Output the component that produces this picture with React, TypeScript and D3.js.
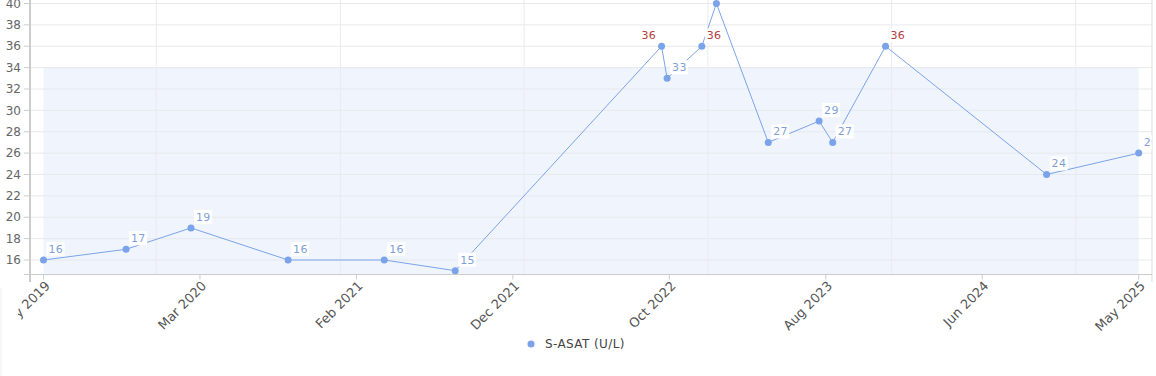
import React from "react";
import * as d3 from "d3";

const sampleDates = [
  "2019-05-22", "2019-11-02", "2020-03-10", "2020-09-19", "2021-03-29", "2021-08-17",
  "2022-10-01", "2022-10-12", "2022-12-20", "2023-01-18", "2023-05-01", "2023-08-10",
  "2023-09-06", "2023-12-20", "2024-11-04", "2025-05-06",
];
const sampleValues = [16, 17, 19, 16, 16, 15, 36, 33, 36, 40, 27, 29, 27, 36, 24, 26];
const yTicks = [16, 18, 20, 22, 24, 26, 28, 30, 32, 34, 36, 38, 40];
const yearLines = ["2020-01-01", "2021-01-01", "2022-01-01", "2023-01-01", "2024-01-01", "2025-01-01"];
const upperLimit = 34;
const yMin = 14.643;
const yMax = 40;
const seriesName = "S-ASAT (U/L)";
const xTickCount = 7;

const W = 1156;
const H = 376;
const plotLeft = 30;
const plotRight = 1152;
const plotTop = 3.5;
const plotBottom = 274.5;
const FONT = "'DejaVu Sans', Verdana, sans-serif";
const BLUE = "#7ba3ea";
const LABEL_BLUE = "#809fd8";
const RED = "#b2403c";

export default function App() {
  const parse = d3.utcParse("%Y-%m-%d");
  const dates = sampleDates.map((s) => parse(s) as Date);
  const data = dates.map((d, i) => ({ d, v: sampleValues[i] }));
  const t0 = dates[0];
  const t1 = dates[dates.length - 1];

  const x = d3.scaleUtc().domain([t0, t1]).range([43.5, 1138.7]);
  const y = d3.scaleLinear().domain([yMin, yMax]).range([plotBottom, plotTop]);

  const step = (t1.getTime() - t0.getTime()) / xTickCount;
  const xTicks = d3.range(xTickCount + 1).map((k) => new Date(t0.getTime() + k * step));
  const fmt = d3.utcFormat("%b %Y");

  const line = d3
    .line<{ d: Date; v: number }>()
    .x((p) => x(p.d))
    .y((p) => y(p.v));

  return (
    <svg
      width={W}
      height={H}
      style={{ position: "fixed", left: 0, top: 0, background: "#fff" }}
      fontFamily={FONT}
    >
      <defs>
        <clipPath id="plotClip">
          <rect x={plotLeft} y={0} width={plotRight - plotLeft} height={plotBottom} />
        </clipPath>
        <clipPath id="xLabClip">
          <rect x={18} y={plotBottom} width={W - 18} height={H - plotBottom} />
        </clipPath>
      </defs>

      {/* reference band */}
      <rect
        x={x(t0)}
        y={y(upperLimit)}
        width={x(t1) - x(t0)}
        height={plotBottom - y(upperLimit)}
        fill="#eff4fd"
      />

      {/* horizontal grid */}
      {yTicks.map((t) => (
        <line key={"g" + t} x1={plotLeft} x2={plotRight} y1={y(t)} y2={y(t)} stroke="#e8e9ed" strokeWidth={1} />
      ))}
      {/* year grid */}
      {yearLines.map((s) => {
        const xx = x(parse(s) as Date);
        return <line key={"yl" + s} x1={xx} x2={xx} y1={0} y2={plotBottom} stroke="#e9ebf0" strokeWidth={1} />;
      })}

      {/* axes */}
      <line x1={plotLeft} x2={plotLeft} y1={0} y2={282} stroke="#cccccc" strokeWidth={2} />
      <line x1={plotRight} x2={plotRight} y1={0} y2={282} stroke="#dddddd" strokeWidth={1} />
      <line x1={plotLeft} x2={plotRight} y1={plotBottom} y2={plotBottom} stroke="#cccccc" strokeWidth={1} />
      <line x1={1} x2={1} y1={288} y2={H} stroke="#eeeeee" strokeWidth={1} />

      {yTicks.map((t) => (
        <g key={"yt" + t}>
          <line x1={24} x2={plotLeft} y1={y(t)} y2={y(t)} stroke="#cccccc" />
          <text x={21} y={y(t)} dy="0.35em" textAnchor="end" fontSize={12} fill="#666">
            {t}
          </text>
        </g>
      ))}
      <line x1={24} x2={plotLeft} y1={plotBottom} y2={plotBottom} stroke="#cccccc" />

      {xTicks.map((t, i) => {
        const xx = x(t);
        return (
          <g key={"xt" + i}>
            <line x1={xx} x2={xx} y1={plotBottom} y2={plotBottom + 5} stroke="#cccccc" />
            <g clipPath="url(#xLabClip)">
              <text
                transform={`translate(${xx + 4},${plotBottom + 9}) rotate(-45)`}
                textAnchor="end"
                dy="0.35em"
                fontSize={13}
                fill="#555"
              >
                {fmt(t)}
              </text>
            </g>
          </g>
        );
      })}

      <g clipPath="url(#plotClip)">
        <path d={line(data) ?? ""} fill="none" stroke={BLUE} strokeWidth={1} />
        {data.map((p, i) => (
          <circle key={"c" + i} cx={x(p.d)} cy={y(p.v)} r={3.5} fill={BLUE} />
        ))}
        {data.map((p, i) => {
          const px = x(p.d);
          const py = y(p.v);
          const next = data[i + 1];
          const left = next ? x(next.d) - px < 8 : false;
          const txt = String(p.v);
          const tw = txt.length * 7;
          const tx = left ? px - 6 - tw : px + 5;
          const ty = py - 11;
          if (ty - 6 < 0) return null;
          const color = p.v > upperLimit ? RED : LABEL_BLUE;
          return (
            <g key={"l" + i}>
              <rect x={tx - 2} y={ty - 7} width={tw + 4} height={14} fill="#fff" />
              <text x={tx} y={ty} dy="0.35em" fontSize={11} fill={color} letterSpacing={0.3}>
                {txt}
              </text>
            </g>
          );
        })}
      </g>

      {/* legend */}
      <circle cx={531} cy={344} r={3.5} fill={BLUE} />
      <text x={545} y={344} dy="0.35em" fontSize={12} fill="#444" letterSpacing={0.4}>
        {seriesName}
      </text>
    </svg>
  );
}
